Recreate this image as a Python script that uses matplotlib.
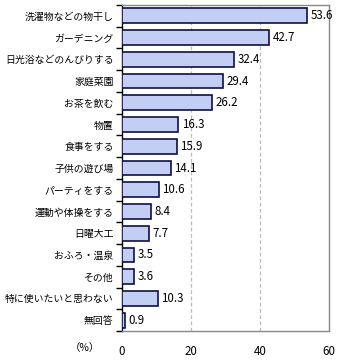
import matplotlib
matplotlib.use("Agg")
import matplotlib.pyplot as plt
import numpy as np

categories = ["洗濯物などの物干し", "ガーデニング", "日光浴などのんびりする", "家庭菜園", "お茶を飲む",
              "物置", "食事をする", "子供の遊び場", "パーティをする", "運動や体操をする",
              "日曜大工", "おふろ・温泉", "その他", "特に使いたいと思わない", "無回答"]
values = [53.6, 42.7, 32.4, 29.4, 26.2, 16.3, 15.9, 14.1, 10.6, 8.4, 7.7, 3.5, 3.6, 10.3, 0.9]
xticks = [0, 20, 40, 60]

plt.rcParams['font.family'] = ['Noto Sans CJK JP', 'DejaVu Sans']

fig = plt.figure(figsize=(3.4, 3.6), dpi=100)
ax = fig.add_axes([122/340, 1-331/360, 207/340, 326/360])

n = len(categories)
y = np.arange(n)
ax.barh(y, values, height=0.68, color='#c3cef5', edgecolor='#101040', linewidth=1.2, zorder=3)
for yi, v in zip(y, values):
    ax.text(v + 1.0, yi, f"{v:.1f}", va='center', ha='left', fontsize=8.3, zorder=4)

ax.set_xlim(0, 60)
ax.set_ylim(n - 0.5, -0.5)
ax.set_xticks(xticks)
ax.set_xticklabels([str(t) for t in xticks], fontsize=8.3)
ax.tick_params(axis='x', length=0, pad=10)
ax.set_yticks(y)
ax.set_yticklabels(categories, fontsize=7.1)
ax.tick_params(axis='y', which='major', length=0, pad=6)
ax.set_yticks(np.arange(-0.5, n, 1), minor=True)
ax.tick_params(axis='y', which='minor', length=4, width=1, color='black', direction='out')

for g in [20, 40]:
    ax.axvline(g, color='#bbbbbb', linestyle=(0, (3, 2)), linewidth=0.9, zorder=1)

ax.spines['left'].set_color('black')
ax.spines['left'].set_linewidth(1.0)
for s in ['top', 'right', 'bottom']:
    ax.spines[s].set_color('#888888')
    ax.spines[s].set_linewidth(1.0)

ax.text(-0.18, -0.052, "（%）", transform=ax.transAxes, fontsize=7.5, ha='center', va='center')

fig.savefig("out.png", dpi=100)
